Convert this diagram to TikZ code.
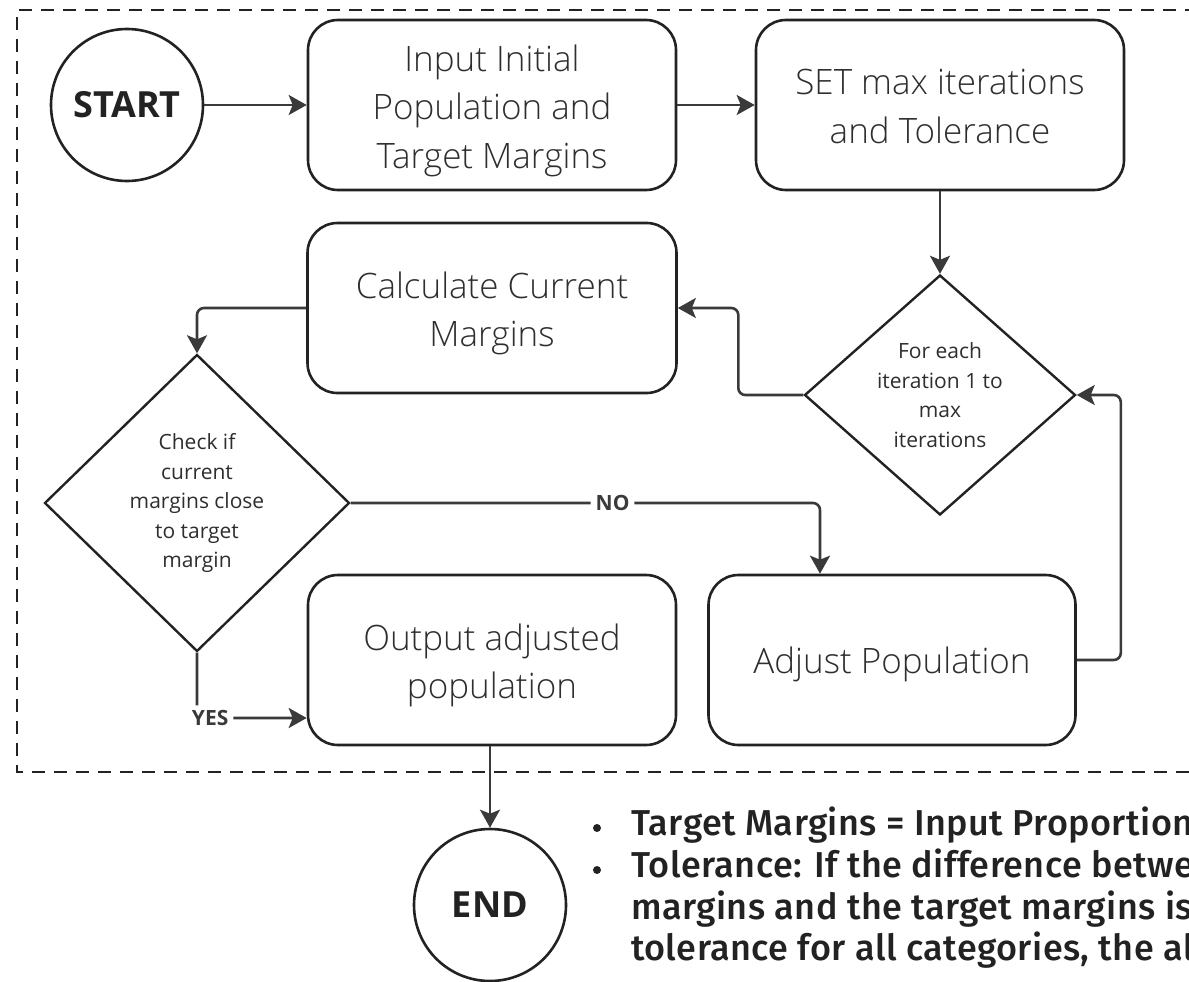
\documentclass[tikz,border=0pt]{standalone}
\usepackage{fontspec}
\setmainfont{Open Sans}
\IfFontExistsTF{Open Sans Light}
  {\newfontfamily\boxfont{Open Sans Light}}
  {\newfontfamily\boxfont{Open Sans}}
\newfontfamily\notefont{Fira Sans Medium}[LetterSpace=1.2]
\usetikzlibrary{shapes.geometric,arrows.meta,calc}

\definecolor{ink}{HTML}{222222}
\definecolor{wire}{HTML}{3A3A3A}
\definecolor{txt}{HTML}{2E2E2E}

\tikzset{
  procbox/.style={draw=ink, line width=2.6pt, rounded corners=30pt, minimum width=368pt,
    minimum height=170pt},
  boxtext/.style={align=center, inner sep=0pt, text=txt,
    font=\boxfont\fontsize{35}{48.5}\selectfont,
    execute at begin node={\rule{0pt}{41.5pt}},
    execute at end node={\rule[-14.5pt]{0pt}{0pt}}},
  termcirc/.style={draw=ink, line width=2.6pt, circle, minimum size=152pt, inner sep=0pt,
    text=ink, font=\fontsize{36}{40}\selectfont\bfseries},
  decide/.style={draw=ink, line width=2.4pt, diamond, inner sep=0pt, align=center,
    text=txt, font=\fontsize{21}{29.5}\selectfont},
  arr/.style={draw=wire, line width=2.6pt, rounded corners=7pt,
    -{Stealth[length=18pt,width=20pt,inset=4pt]}},
  lbl/.style={fill=white, inner sep=5pt, text=wire, font=\fontsize{21}{24}\selectfont\bfseries},
  note/.style={anchor=base west, inner sep=0pt, text=ink, font=\notefont\fontsize{36}{42}\selectfont},
  bullet/.style={circle, fill=ink, inner sep=0pt, minimum size=8pt},
}

\begin{document}
\begin{tikzpicture}[x=1pt, y=-1pt]
  \useasboundingbox (0,0) rectangle (1189,982);
  \clip (0,0) rectangle (1189,982);

  % dashed frame around the iteration loop
  \draw[ink, line width=2.4pt, dash pattern=on 13pt off 9pt]
    (1220,10) -- (17,10) -- (17,772) -- (1220,772);

  % process boxes
  \node[procbox] (input) at (492,105) {};
  \node[procbox] (setup) at (940,105) {};
  \node[procbox, minimum width=369pt] (calc) at (492,308) {};
  \node[procbox] (output) at (492,660) {};
  \node[procbox, minimum width=367pt] (adjust) at (892,660) {};

  % box labels (multi-line labels sit a little lower)
  \node[boxtext] (inputtext) at ([yshift=-8.5pt]input.center) {Input Initial\\Population and\\Target Margins};
  \node[boxtext] (setuptext) at ([yshift=-8.5pt]setup.center) {SET max iterations\\and Tolerance};
  \node[boxtext] (calctext) at ([yshift=-8.5pt]calc.center) {Calculate Current\\Margins};
  \node[boxtext] (outputtext) at ([yshift=-8.5pt]output.center) {Output adjusted\\population};
  \node[boxtext] (adjusttext) at (adjust.center) {Adjust Population};

  % terminals and decisions
  \node[termcirc] (start) at (127,105) {START};
  \node[termcirc] (finish) at (490,905) {END};
  \node[decide, minimum width=271pt, minimum height=240pt] (loop) at (940,395)
    {For each\\iteration 1 to\\max\\iterations};
  \node[decide, minimum width=305pt, minimum height=297pt] (check) at (197,503)
    {Check if\\current\\margins close\\to target\\margin};

  \coordinate (adjin) at ([xshift=-72pt]adjust.north);
  \coordinate (outin) at ([yshift=-58pt]output.west);

  % connectors
  \draw[arr] (start) -- (input);
  \draw[arr] (input) -- (setup);
  \draw[arr] (setup.south -| loop.north) -- (loop.north);
  \draw[arr] (loop.west) -- ++(-65,0) |- (calc.east);
  \draw[arr] (calc.west) -| (check.north);
  \draw[arr] (check.east) -- node[lbl, pos=0.558] {NO} (adjin |- check.east) -- (adjin);
  \draw[arr] (adjust.east) -- ++(44,0) |- (loop.east);
  \draw[arr] (check.south) |- node[lbl, pos=0.56] {YES} (outin);
  \draw[arr] (output.south -| finish.north) -- (finish.north);

  % notes beside the end node
  \node[bullet] (dot1) at (597,828) {};
  \node[bullet] (dot2) at (597,870) {};
  \node[note] (n1) at (631,835) {Target Margins = Input Proportions};
  \node[note] (n2) at (631,877) {Tolerance: If the difference between};
  \node[note] (n3) at (631,919) {margins and the target margins is};
  \node[note] (n4) at (631,960) {tolerance for all categories, the al};
\end{tikzpicture}
\end{document}
